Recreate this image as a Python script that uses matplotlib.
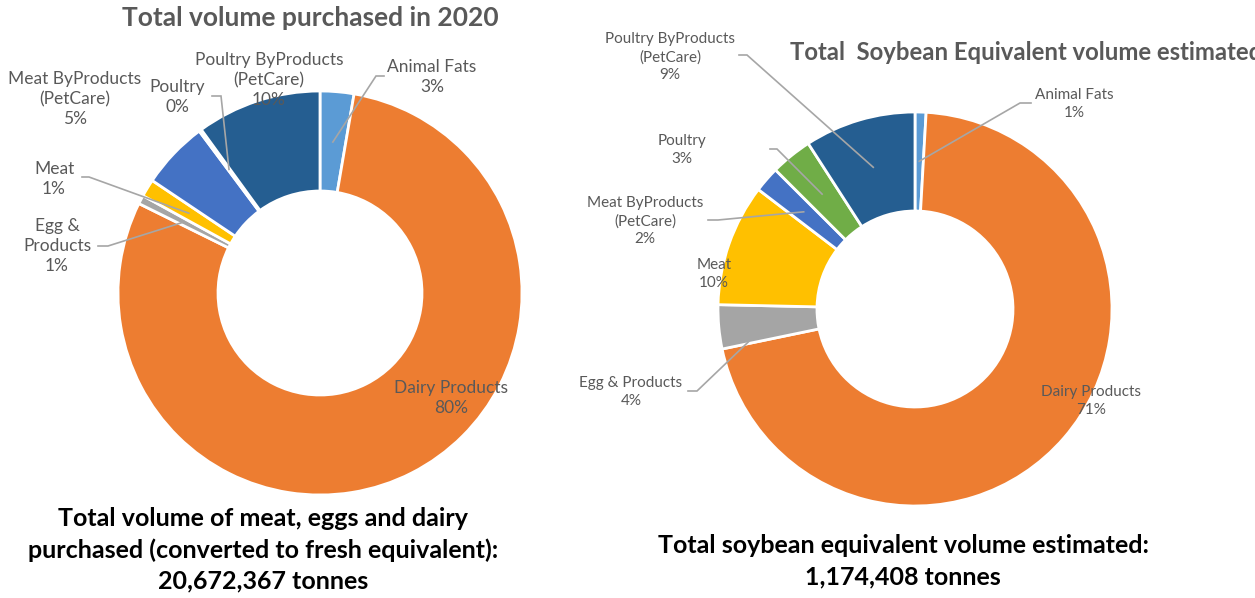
import matplotlib.pyplot as plt

W, H = 1255, 598

colors = ["#5B9BD5", "#ED7D31", "#A5A5A5", "#FFC000", "#4472C4", "#70AD47", "#255E91"]

# slice order, clockwise from 12 o'clock
categories = ["Animal Fats", "Dairy Products", "Egg & Products", "Meat",
              "Meat ByProducts (PetCare)", "Poultry", "Poultry ByProducts (PetCare)"]

# share of volume purchased in 2020 (%)
purchased = [2.7, 79.6, 0.7, 1.4, 5.4, 0.2, 10.0]
# share of soybean equivalent volume (%)
soy = [0.9, 70.7, 3.6, 10.0, 2.1, 3.4, 9.1]

left_labels = ["Animal Fats", "Dairy Products", "Egg &\nProducts", "Meat",
               "Meat ByProducts\n(PetCare)", "Poultry", "Poultry ByProducts\n(PetCare)"]
right_labels = ["Animal Fats", "Dairy Products", "Egg & Products", "Meat",
                "Meat ByProducts\n(PetCare)", "Poultry", "Poultry ByProducts\n(PetCare)"]

plt.rcParams["font.family"] = ["Lato", "DejaVu Sans"]

LABEL_COLOR = "#595959"
LEADER_COLOR = "#A6A6A6"


def py(y):
    # pixel row (from top) -> data y (from bottom)
    return H - y


def donut(ax, values, cx, cy, r_out, r_in):
    wedges, _ = ax.pie(
        values,
        colors=colors,
        startangle=90,
        counterclock=False,
        center=(cx, py(cy)),
        radius=r_out,
        wedgeprops=dict(width=r_out - r_in, edgecolor="white", linewidth=2),
    )
    return wedges


def wedge_point(w, t=0.5, rfrac=0.75):
    import math
    ang = w.theta2 - t * (w.theta2 - w.theta1)
    r = w.r * rfrac
    cx, cy = w.center
    return cx + r * math.cos(math.radians(ang)), cy + r * math.sin(math.radians(ang))


def pct_text(values):
    total = sum(values)
    return [f"{round(v / total * 100)}%" for v in values]


def put_labels(ax, wedges, labels, pcts, pos, leaders, size):
    for i, (lab, pct) in enumerate(zip(labels, pcts)):
        x, y = pos[i]
        ax.text(x, py(y), f"{lab}\n{pct}", ha="center", va="center", fontsize=size,
                color=LABEL_COLOR, linespacing=1.3, zorder=5)
        if i in leaders:
            (x0, y0), (x1, y1), t, rf = leaders[i]
            tx, ty = wedge_point(wedges[i], t, rf)
            ax.plot([x0, x1, tx], [py(y0), py(y1), ty], color=LEADER_COLOR, lw=1.2,
                    solid_joinstyle="miter", zorder=4)


fig = plt.figure(figsize=(W / 100, H / 100), dpi=100)
ax = fig.add_axes([0, 0, 1, 1])

# left chart
lw = donut(ax, purchased, 320, 293, 202, 102)
left_pos = [(432, 77), (451, 398), (57, 246), (54, 179), (75, 99), (177, 97), (269, 80)]
left_leaders = {
    0: ((384, 76), (376, 76), 0.5, 0.75),
    2: ((98, 246), (108, 246), 0.5, 0.76),
    3: ((82, 177), (89, 177), 0.5, 0.76),
    5: ((212, 96), (221, 96), 0.5, 0.76),
}
put_labels(ax, lw, left_labels, pct_text(purchased), left_pos, left_leaders, 12.5)

# right chart
rw = donut(ax, soy, 915, 309, 197, 98)
right_pos = [(1074, 104), (1091, 401), (631, 392), (714, 274), (645, 221), (682, 150), (670, 57)]
right_leaders = {
    0: ((1031, 103), (1020, 103), 0.5, 0.75),
    2: ((688, 391), (697, 391), 0.05, 0.86),
    4: ((708, 220), (718, 220), 0.5, 0.75),
    5: ((770, 149), (777, 149), 0.5, 0.75),
    6: ((739, 55), (747, 55), 0.5, 0.75),
}
put_labels(ax, rw, right_labels, pct_text(soy), right_pos, right_leaders, 11)

# titles
ax.text(310, py(18), "Total volume purchased in 2020", ha="center", va="center",
        fontsize=19, fontweight="bold", color=LABEL_COLOR)
ax.text(790, py(53), "Total  Soybean Equivalent volume estimated", ha="left", va="center",
        fontsize=17.2, fontweight="bold", color=LABEL_COLOR)

# totals underneath
ax.text(263, py(550), "Total volume of meat, eggs and dairy\npurchased (converted to fresh equivalent):\n20,672,367 tonnes",
        ha="center", va="center", fontsize=18, fontweight="bold", color="black", linespacing=1.42)
ax.text(903, py(561), "Total soybean equivalent volume estimated:\n1,174,408 tonnes",
        ha="center", va="center", fontsize=18, fontweight="bold", color="black", linespacing=1.42)

ax.set_xlim(0, W)
ax.set_ylim(0, H)
ax.set_aspect("equal")
ax.axis("off")

fig.savefig("out.png", dpi=100)
